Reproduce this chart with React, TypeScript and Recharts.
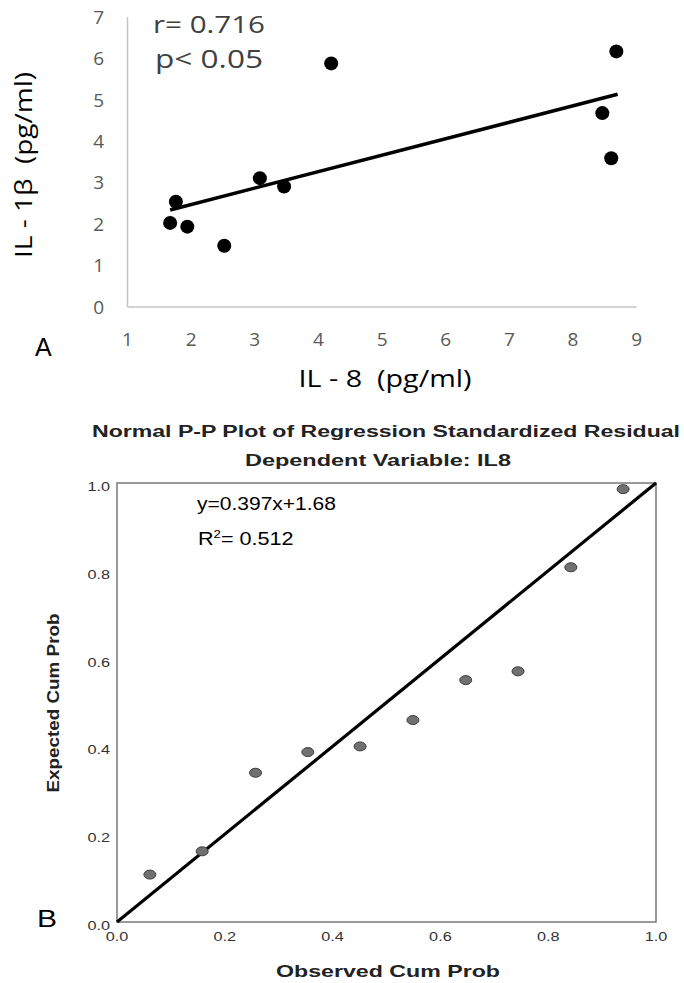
import React from 'react';
import { ScatterChart, Scatter, XAxis, YAxis, ReferenceLine, ReferenceArea } from 'recharts';

// panel A: IL-8 vs IL-1beta
const il8Values = [1.67, 1.76, 1.94, 2.52, 3.08, 3.46, 4.2, 8.46, 8.6, 8.68];
const il1bValues = [2.03, 2.54, 1.94, 1.48, 3.11, 2.91, 5.88, 4.68, 3.59, 6.17];
const il8Ticks = [1, 2, 3, 4, 5, 6, 7, 8, 9];
const il1bTicks = [0, 1, 2, 3, 4, 5, 6, 7];
const trendSlope = 0.397;
const trendIntercept = 1.68;
const trendRange = [1.67, 8.7];

// panel B: normal P-P plot
const observedCum = [0.061, 0.158, 0.257, 0.354, 0.451, 0.549, 0.647, 0.744, 0.842, 0.939];
const expectedCum = [0.108, 0.161, 0.34, 0.387, 0.4, 0.46, 0.551, 0.571, 0.808, 0.986];
const probTicks = [0, 0.2, 0.4, 0.6, 0.8, 1];
const diagonal = [0, 1];

const calibri = '"Open Sans", Lato, sans-serif';
const arial = '"Liberation Sans", Arial, sans-serif';

const corrData = il8Values.map((x, i) => ({ x, y: il1bValues[i] }));
const ppData = observedCum.map((x, i) => ({ x, y: expectedCum[i] }));
const trendSegment = trendRange.map((x) => ({ x, y: trendSlope * x + trendIntercept }));

const BlackDot = (p: any) => <circle cx={p.cx} cy={p.cy} r={7} fill="#000" />;
const GreyDot = (p: any) => (
  <ellipse cx={p.cx} cy={p.cy} rx={6} ry={4.5} fill="#707070" stroke="#3c3c3c" strokeWidth={1} />
);

const ProbTickX = ({ x, y, payload }: any) => (
  <g transform={`translate(${x},${y})`}>
    <text transform="scale(1.25,1)" textAnchor="middle" dy="0.71em" fontSize={13} fontFamily={arial} fill="#333">
      {payload.value.toFixed(1)}
    </text>
  </g>
);

const ProbTickY = ({ x, y, payload }: any) => (
  <g transform={`translate(${x},${y})`}>
    <text transform="scale(1.25,1)" textAnchor="end" dy={8} fontSize={13} fontFamily={arial} fill="#333">
      {payload.value.toFixed(1)}
    </text>
  </g>
);

export default function App() {
  return (
    <div style={{ position: 'absolute', left: 0, top: 0, width: 684, height: 983, background: '#fff' }}>
      <div style={{ position: 'absolute', left: 0, top: 0 }}>
        <ScatterChart width={684} height={400} margin={{ top: 17, right: 47.3, bottom: 63, left: 67.5 }}>
          <XAxis
            type="number"
            dataKey="x"
            domain={[1, 9]}
            ticks={il8Ticks}
            tickLine={false}
            tickSize={0}
            tickMargin={26}
            axisLine={{ stroke: '#c4c4c4', strokeWidth: 1.5 }}
            tick={{ fill: '#595959', fontSize: 19, fontFamily: calibri }}
          />
          <YAxis
            type="number"
            dataKey="y"
            domain={[0, 7]}
            ticks={il1bTicks}
            width={60}
            tickLine={false}
            tickSize={0}
            tickMargin={23.5}
            axisLine={{ stroke: '#c4c4c4', strokeWidth: 1.5 }}
            tick={{ fill: '#595959', fontSize: 19, fontFamily: calibri }}
          />
          <ReferenceLine segment={trendSegment} stroke="#000" strokeWidth={3.5} />
          <Scatter data={corrData} shape={BlackDot} isAnimationActive={false} />
        </ScatterChart>
      </div>

      <div style={{ position: 'absolute', left: 0, top: 400 }}>
        <ScatterChart width={684} height={583} margin={{ top: 83, right: 28, bottom: 31, left: 77 }}>
          <XAxis
            type="number"
            dataKey="x"
            domain={[0, 1]}
            ticks={probTicks}
            tickLine={false}
            tickSize={0}
            tickMargin={10}
            axisLine={false}
            tick={<ProbTickX />}
          />
          <YAxis
            type="number"
            dataKey="y"
            domain={[0, 1]}
            ticks={probTicks}
            width={40}
            tickLine={false}
            tickSize={0}
            tickMargin={7}
            axisLine={false}
            tick={<ProbTickY />}
          />
          <ReferenceArea x1={0} x2={1} y1={0} y2={1} fill="none" stroke="#7a7a7a" strokeWidth={1.5} />
          <ReferenceLine
            segment={diagonal.map((v) => ({ x: v, y: v }))}
            stroke="#000"
            strokeWidth={3.2}
          />
          <Scatter data={ppData} shape={GreyDot} isAnimationActive={false} />
        </ScatterChart>
      </div>

      <svg
        width={684}
        height={983}
        style={{ position: 'absolute', left: 0, top: 0, pointerEvents: 'none' }}
      >
        {/* panel A text */}
        <text x={153} y={33} fontSize={24} fontFamily={calibri} fill="#404040" textLength={112} lengthAdjust="spacingAndGlyphs">
          r= 0.716
        </text>
        <text x={155} y={68} fontSize={26} fontFamily={calibri} fill="#404040" textLength={108} lengthAdjust="spacingAndGlyphs">
          p&lt; 0.05
        </text>
        <text
          transform="translate(32,165) rotate(-90)"
          textAnchor="middle"
          fontSize={24}
          fontFamily={calibri}
          fill="#000"
          textLength={186}
          lengthAdjust="spacingAndGlyphs"
        >
          {'IL - 1β \u00A0(pg/ml)'}
        </text>
        <text x={385} y={387} textAnchor="middle" fontSize={24} fontFamily={calibri} fill="#000" textLength={173} lengthAdjust="spacingAndGlyphs">
          {'IL - 8 \u00A0(pg/ml)'}
        </text>
        <text x={35} y={356} fontSize={25} fontFamily={arial} fill="#000">
          A
        </text>

        {/* panel B text */}
        <text x={386} y={437} textAnchor="middle" fontSize={16} fontWeight="bold" fontFamily={arial} fill="#222" textLength={588} lengthAdjust="spacingAndGlyphs">
          Normal P-P Plot of Regression Standardized Residual
        </text>
        <text x={378} y={466} textAnchor="middle" fontSize={16} fontWeight="bold" fontFamily={arial} fill="#222" textLength={266} lengthAdjust="spacingAndGlyphs">
          Dependent Variable: IL8
        </text>
        <text x={197} y={510} fontSize={18} fontFamily={arial} fill="#000" textLength={139} lengthAdjust="spacingAndGlyphs">
          y=0.397x+1.68
        </text>
        <text transform="translate(198,545) scale(1.2,1)" fontSize={18} fontFamily={arial} fill="#000">
          R<tspan dy={-7} fontSize={11}>2</tspan>
          <tspan dy={7}>= 0.512</tspan>
        </text>
        <text
          transform="translate(59,703) rotate(-90)"
          textAnchor="middle"
          fontSize={17}
          fontWeight="bold"
          fontFamily={arial}
          fill="#222"
          textLength={179}
          lengthAdjust="spacingAndGlyphs"
        >
          Expected Cum Prob
        </text>
        <text x={388} y={977} textAnchor="middle" fontSize={17} fontWeight="bold" fontFamily={arial} fill="#222" textLength={224} lengthAdjust="spacingAndGlyphs">
          Observed Cum Prob
        </text>
        <text x={37} y={927} fontSize={24} fontFamily={arial} fill="#000" textLength={20} lengthAdjust="spacingAndGlyphs">
          B
        </text>
      </svg>
    </div>
  );
}
